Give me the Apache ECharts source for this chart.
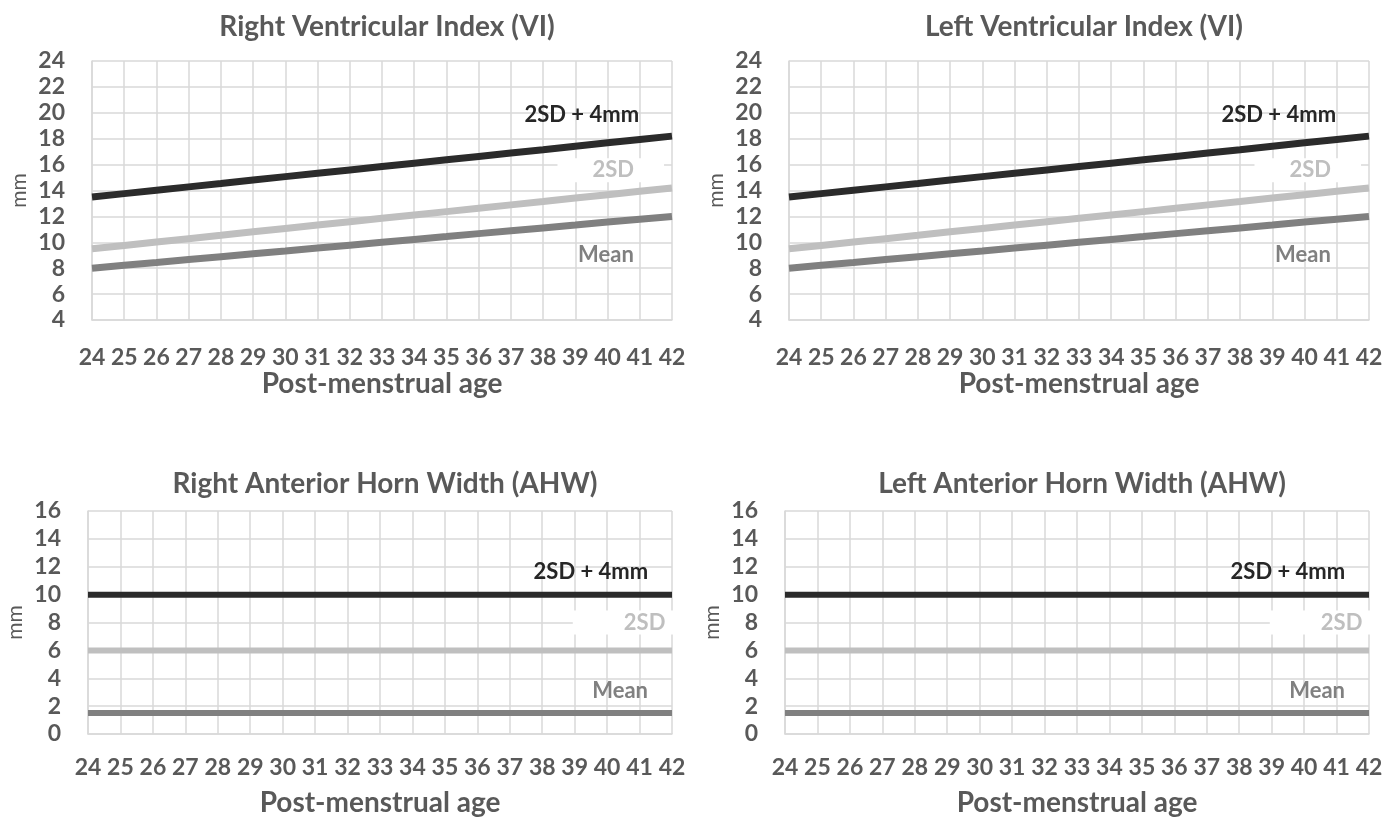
<!DOCTYPE html>
<html>
<head>
<meta charset="utf-8">
<script src="https://cdn.jsdelivr.net/npm/echarts@6/dist/echarts.min.js"></script>
<style>
html,body{margin:0;padding:0;background:#fff;}
#c{width:1398px;height:819px;}
</style>
</head>
<body>
<div id="c"></div>
<script>
const weeks = [24,25,26,27,28,29,30,31,32,33,34,35,36,37,38,39,40,41,42];
const titles = ['Right Ventricular Index (VI)','Left Ventricular Index (VI)','Right Anterior Horn Width (AHW)','Left Anterior Horn Width (AHW)'];
const xAxisName = 'Post-menstrual age';
const yAxisName = 'mm';
const seriesNames = ['2SD + 4mm','2SD','Mean'];

// Ventricular Index (mm) - same for right and left
const viPlus4 = [13.50,13.76,14.02,14.28,14.54,14.81,15.07,15.33,15.59,15.85,16.11,16.37,16.63,16.89,17.15,17.42,17.68,17.94,18.20];
const vi2SD   = [9.50,9.76,10.02,10.28,10.54,10.81,11.07,11.33,11.59,11.85,12.11,12.37,12.63,12.89,13.15,13.42,13.68,13.94,14.20];
const viMean  = [8.00,8.22,8.44,8.67,8.89,9.11,9.33,9.56,9.78,10.00,10.22,10.44,10.67,10.89,11.11,11.33,11.56,11.78,12.00];

// Anterior Horn Width (mm) - same for right and left
const ahwPlus4 = [10,10,10,10,10,10,10,10,10,10,10,10,10,10,10,10,10,10,10];
const ahw2SD   = [6,6,6,6,6,6,6,6,6,6,6,6,6,6,6,6,6,6,6];
const ahwMean  = [1.5,1.5,1.5,1.5,1.5,1.5,1.5,1.5,1.5,1.5,1.5,1.5,1.5,1.5,1.5,1.5,1.5,1.5,1.5];

// label anchor positions [week, mm]
const viLabelPos  = [[39.2, 19.85],[40.1, 15.57],[39.95, 9.04]];
const ahwLabelPos = [[39.5, 11.6],[40.6, 8.0],[40.4, 3.12]];

const yRanges = [[4,24],[4,24],[0,16],[0,16]];

const FONT = 'Lato';
const TXT = '#595959';
const GRIDC = '#d9d9d9';
const lineColors = ['#2b2b2b','#bfbfbf','#808080'];

const grids = [
  {left:92, right:726, top:61, height:259},
  {left:789, right:29, top:61, height:259},
  {left:88, right:726, top:511, height:223},
  {left:785, right:29, top:511, height:223}
];

const chart = echarts.init(document.getElementById('c'));
const option = {
  animation:false,
  backgroundColor:'#fff',
  title: grids.map((g,i)=>({
    text: titles[i],
    left: g.left + (1398 - g.left - g.right)/2,
    textAlign:'center',
    top: i<2 ? 8 : 465,
    textStyle:{fontFamily:FONT,fontWeight:'bold',fontSize:28,color:TXT}
  })),
  grid: grids,
  xAxis: grids.map((g,i)=>({
    type:'value', gridIndex:i, min:24, max:42, interval:1,
    name:xAxisName, nameLocation:'middle', nameGap: i<2 ? 43 : 55,
    nameTextStyle:{fontFamily:FONT,fontWeight:'bold',fontSize:28,color:TXT,verticalAlign:'top'},
    axisLine:{show:true,lineStyle:{color:GRIDC,width:1.5}},
    axisTick:{show:false},
    splitLine:{show:true,lineStyle:{color:GRIDC,width:1.5}},
    axisLabel:{fontFamily:FONT,fontWeight:'bold',fontSize:23,color:TXT,margin: i<2 ? 26 : 22}
  })),
  yAxis: grids.map((g,i)=>({
    type:'value', gridIndex:i, min:yRanges[i][0], max:yRanges[i][1], interval:2,
    name:yAxisName, nameLocation:'middle', nameGap: 62, nameRotate:90,
    nameTextStyle:{fontFamily:FONT,fontSize:21,color:TXT},
    axisLine:{show:true,lineStyle:{color:GRIDC,width:1.5}},
    axisTick:{show:false},
    splitLine:{show:true,lineStyle:{color:GRIDC,width:1.5}},
    axisLabel:{fontFamily:FONT,fontWeight:'bold',fontSize:23,color:TXT,margin:27}
  })),
  series: []
};

const sets = [
  [viPlus4, vi2SD, viMean, viLabelPos],
  [viPlus4, vi2SD, viMean, viLabelPos],
  [ahwPlus4, ahw2SD, ahwMean, ahwLabelPos],
  [ahwPlus4, ahw2SD, ahwMean, ahwLabelPos]
];

sets.forEach((s,gi)=>{
  for(let k=0;k<3;k++){
    const vals = s[k];
    const lp = s[3][k];
    const lbl = {
      show:true, formatter:seriesNames[k], position:'inside',
      fontFamily:FONT, fontWeight:'bold', fontSize:22, color: k===0 ? '#262626' : lineColors[k]
    };
    if(k===1){
      lbl.backgroundColor = '#fff';
      lbl.padding = gi<2 ? [1,30,1,35] : [1,15,1,51];
    }
    option.series.push({
      type:'line', name:seriesNames[k], xAxisIndex:gi, yAxisIndex:gi,
      data: weeks.map((w,j)=>[w, vals[j]]),
      showSymbol:false, symbol:'none',
      lineStyle:{color:lineColors[k], width: gi<2 ? 7 : 6},
      z: k===1 ? 3 : 2,
      markPoint:{
        symbol:'circle', symbolSize:0, silent:true,
        label:lbl,
        data:[{coord:lp, value:0}]
      }
    });
  }
});

chart.setOption(option);
</script>
</body>
</html>
